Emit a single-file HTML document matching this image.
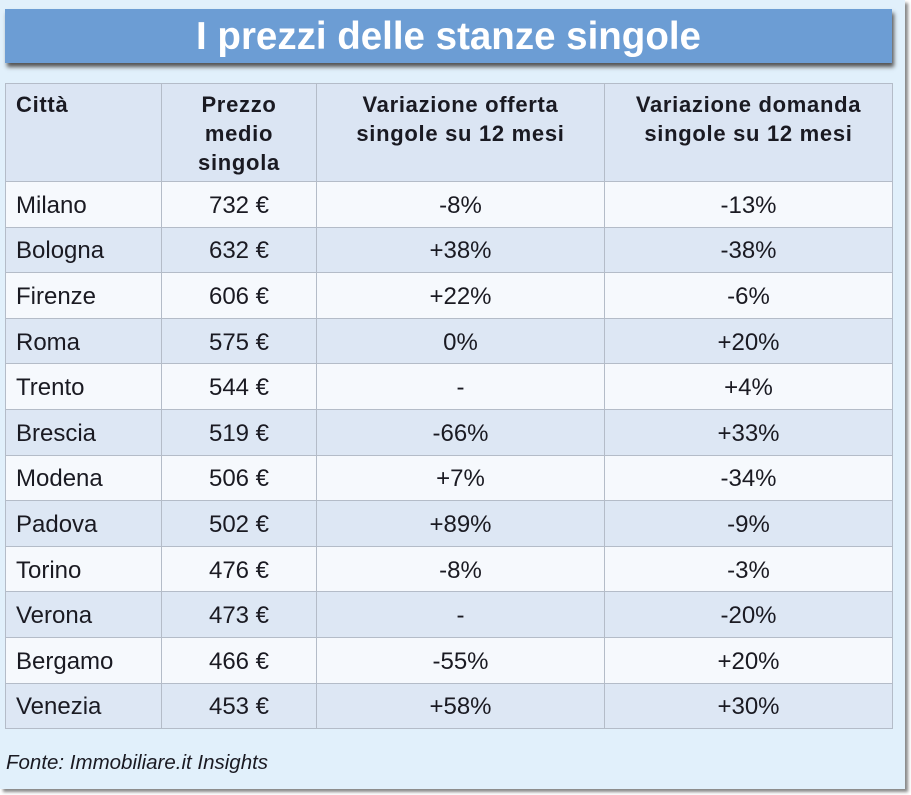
<!DOCTYPE html>
<html><head><meta charset="utf-8"><style>
body{margin:0;width:911px;height:795px;background:#fff;overflow:hidden;font-family:"Liberation Sans",sans-serif;}
.bg{position:absolute;left:0;top:0;width:905px;height:789px;background:#e1f0fb;box-shadow:3px 3px 3px #888;}
.title{position:absolute;left:5px;top:9px;width:887px;height:54px;background:#6c9dd4;box-shadow:2px 4px 4px #555;color:#fff;font-weight:bold;font-size:38.5px;text-align:center;line-height:56px;}
table{position:absolute;left:5px;top:83px;border-collapse:collapse;color:#1a1a22;font-size:24px;}
td{border:1px solid #b4bcc8;padding:3px 0 0 0;text-align:center;height:41.6px;line-height:26px;}
td:first-child{text-align:left;padding-left:10px;}
tr.h td{height:91px;vertical-align:top;padding-top:6px;line-height:29px;font-weight:bold;font-size:22px;letter-spacing:0.7px;background:#dbe5f3;}
tr:nth-child(even) td{background:#f6f9fd;}
tr:nth-child(odd):not(.h) td{background:#dde7f4;}
.src{position:absolute;left:6px;top:751px;font-style:italic;font-size:20.5px;color:#1a1a22;}
</style></head><body>
<div class="bg"></div>
<div class="title">I prezzi delle stanze singole</div>
<table>
<colgroup><col style="width:156px"><col style="width:155px"><col style="width:288px"><col style="width:288px"></colgroup>
<tr class="h"><td>Città</td><td>Prezzo<br>medio<br>singola</td><td>Variazione offerta<br>singole su 12 mesi</td><td>Variazione domanda<br>singole su 12 mesi</td></tr>
<tr><td>Milano</td><td>732 €</td><td>-8%</td><td>-13%</td></tr>
<tr><td>Bologna</td><td>632 €</td><td>+38%</td><td>-38%</td></tr>
<tr><td>Firenze</td><td>606 €</td><td>+22%</td><td>-6%</td></tr>
<tr><td>Roma</td><td>575 €</td><td>0%</td><td>+20%</td></tr>
<tr><td>Trento</td><td>544 €</td><td>-</td><td>+4%</td></tr>
<tr><td>Brescia</td><td>519 €</td><td>-66%</td><td>+33%</td></tr>
<tr><td>Modena</td><td>506 €</td><td>+7%</td><td>-34%</td></tr>
<tr><td>Padova</td><td>502 €</td><td>+89%</td><td>-9%</td></tr>
<tr><td>Torino</td><td>476 €</td><td>-8%</td><td>-3%</td></tr>
<tr><td>Verona</td><td>473 €</td><td>-</td><td>-20%</td></tr>
<tr><td>Bergamo</td><td>466 €</td><td>-55%</td><td>+20%</td></tr>
<tr><td>Venezia</td><td>453 €</td><td>+58%</td><td>+30%</td></tr>
</table>
<div class="src">Fonte: Immobiliare.it Insights</div>
</body></html>
